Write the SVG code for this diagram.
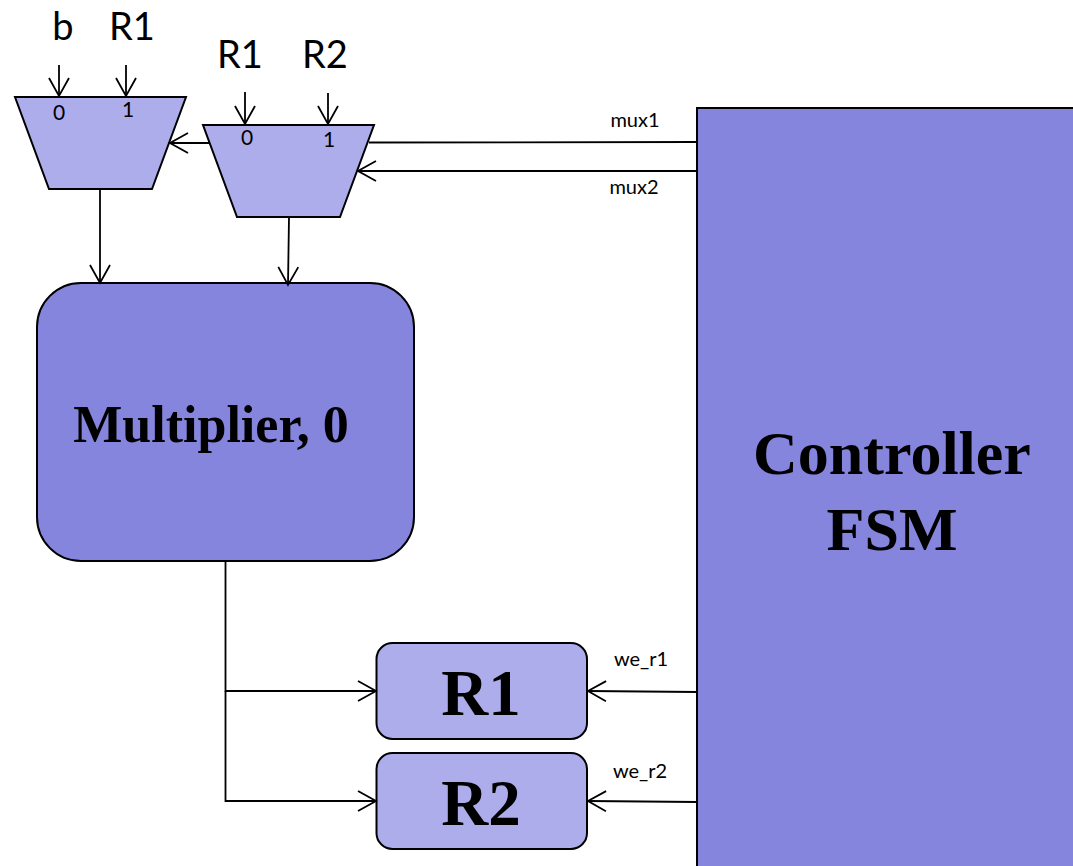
<svg xmlns="http://www.w3.org/2000/svg" width="1073" height="866" viewBox="0 0 1073 866">
<style>
.s{stroke:#000;stroke-width:2}
.d{fill:#8585de}
.l{fill:#adadec}
.c{fill:none;stroke:#000;stroke-width:1.8}
text{fill:#000;font-family:Lato,"Liberation Sans",sans-serif}
.b{font-family:"Liberation Serif",serif;font-weight:bold;text-anchor:middle}
.big{font-size:38px;text-anchor:middle}
.sm{font-size:20px;text-anchor:middle}
.pin{font-size:21px;text-anchor:middle}
</style>
<defs>
<marker id="a" markerUnits="userSpaceOnUse" markerWidth="22" markerHeight="26" refX="19" refY="12" orient="auto" overflow="visible">
<path d="M1 2L19 12L1 22" fill="none" stroke="#000" stroke-width="1.8"/>
</marker>
</defs>
<g id="mux-left">
<polygon class="s l" points="15,97 186,97 152,189 49,189"/>
<text class="pin" x="59" y="120">0</text>
<text class="pin" x="128" y="117">1</text>
</g>
<g id="mux-right">
<polygon class="s l" points="203,125 374,125 340,217 237,217"/>
<text class="pin" x="247" y="145">0</text>
<text class="pin" x="329" y="147">1</text>
</g>
<g id="multiplier">
<rect class="s d" x="37" y="283" width="377" height="278" rx="44" ry="44"/>
<text class="b" x="211" y="442" font-size="52">Multiplier, 0</text>
</g>
<g id="controller">
<path class="s d" d="M697 870V108H1075V870Z"/>
<text class="b" x="892" y="474" font-size="62">Controller</text>
<text class="b" x="892" y="550" font-size="62">FSM</text>
</g>
<g id="r1">
<rect class="s l" x="376.500" y="643" width="210.500" height="96" rx="16" ry="16"/>
<text class="b" x="481" y="715" font-size="65">R1</text>
</g>
<g id="r2">
<rect class="s l" x="376.500" y="753" width="210.500" height="96" rx="16" ry="16"/>
<text class="b" x="481" y="825" font-size="65">R2</text>
</g>
<g id="labels">
<text class="big" x="63" y="40">b</text>
<text class="big" x="132" y="40">R1</text>
<text class="big" x="240" y="68">R1</text>
<text class="big" x="325" y="68">R2</text>
<text class="sm" x="635" y="127">mux1</text>
<text class="sm" x="634" y="194">mux2</text>
<text class="sm" x="641" y="666">we_r1</text>
<text class="sm" x="640" y="778">we_r2</text>
</g>
<g id="connectors">
<path class="c" marker-end="url(#a)" d="M59 65V96"/>
<path class="c" marker-end="url(#a)" d="M126 65V96"/>
<path class="c" marker-end="url(#a)" d="M245 92V124"/>
<path class="c" marker-end="url(#a)" d="M328 93V124"/>
<path class="c" marker-end="url(#a)" d="M210 143H170"/>
<path class="c" d="M369 142.500L697 142"/>
<path class="c" marker-end="url(#a)" d="M697 171H358"/>
<path class="c" marker-end="url(#a)" d="M100 189V283"/>
<path class="c" marker-end="url(#a)" d="M289 217L288 285"/>
<path class="c" marker-end="url(#a)" d="M225.500 561V691H376"/>
<path class="c" marker-end="url(#a)" d="M225.500 691V801H376"/>
<path class="c" marker-end="url(#a)" d="M697 692L588 691"/>
<path class="c" marker-end="url(#a)" d="M697 802L588 801"/>
</g>
</svg>
